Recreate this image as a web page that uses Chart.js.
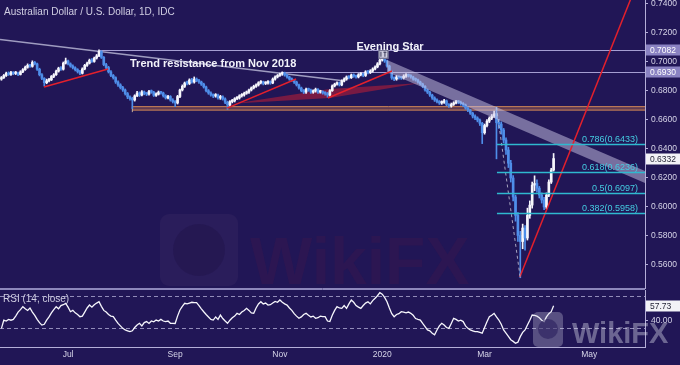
<!DOCTYPE html>
<html><head><meta charset="utf-8">
<script src="https://cdn.jsdelivr.net/npm/chart.js@4/dist/chart.umd.min.js"></script>
<style>
html,body{margin:0;padding:0;background:#211656;width:680px;height:365px;overflow:hidden}
#wrap{position:relative;width:680px;height:365px}
#c1{position:absolute;left:0;top:0}
#c2{position:absolute;left:0;top:289px}
</style></head>
<body><div id="wrap"><canvas id="c1" width="680" height="289"></canvas><canvas id="c2" width="680" height="76"></canvas></div>
<script>
// ---------- DATA (AUD/USD daily, bar index = trading day from 22 May 2019) ----------
const opens = [0.6880,0.6890,0.6905,0.6920,0.6912,0.6925,0.6918,0.6922,0.6912,0.6930,
0.6945,0.6962,0.6975,0.6968,0.6995,0.6985,0.6948,0.6910,0.6885,0.6855,
0.6868,0.6875,0.6898,0.6910,0.6935,0.6955,0.6948,0.6990,0.7005,0.6985,
0.6970,0.6958,0.6945,0.6932,0.6920,0.6950,0.6975,0.6990,0.7010,0.7002,
0.7025,0.7040,0.7070,0.7030,0.6980,0.6960,0.6930,0.6905,0.6890,0.6860,
0.6840,0.6822,0.6805,0.6780,0.6757,0.6745,0.6736,0.6765,0.6784,0.6770,
0.6792,0.6780,0.6776,0.6795,0.6790,0.6768,0.6776,0.6790,0.6784,0.6765,
0.6750,0.6760,0.6736,0.6725,0.6715,0.6760,0.6805,0.6830,0.6853,0.6850,
0.6874,0.6860,0.6880,0.6870,0.6860,0.6845,0.6826,0.6800,0.6784,0.6770,
0.6763,0.6770,0.6750,0.6758,0.6743,0.6720,0.6701,0.6725,0.6730,0.6745,
0.6750,0.6765,0.6770,0.6782,0.6790,0.6805,0.6819,0.6830,0.6840,0.6855,
0.6860,0.6850,0.6853,0.6862,0.6853,0.6880,0.6895,0.6905,0.6915,0.6922,
0.6908,0.6895,0.6880,0.6872,0.6860,0.6840,0.6819,0.6800,0.6790,0.6810,
0.6805,0.6790,0.6798,0.6810,0.6790,0.6795,0.6784,0.6780,0.6770,0.6800,
0.6833,0.6845,0.6853,0.6840,0.6867,0.6880,0.6895,0.6890,0.6908,0.6900,
0.6895,0.6910,0.6915,0.6905,0.6930,0.6925,0.6936,0.6950,0.6964,0.6985,
0.7012,0.7018,0.7005,0.6970,0.6930,0.6888,0.6880,0.6895,0.6890,0.6888,
0.6900,0.6908,0.6902,0.6895,0.6880,0.6874,0.6860,0.6846,0.6830,0.6805,
0.6790,0.6770,0.6750,0.6736,0.6725,0.6715,0.6720,0.6730,0.6705,0.6694,
0.6705,0.6715,0.6725,0.6720,0.6710,0.6701,0.6680,0.6667,0.6645,0.6625,
0.6612,0.6598,0.6575,0.6510,0.6560,0.6590,0.6610,0.6625,0.6640,0.6580,
0.6570,0.6529,0.6460,0.6391,0.6300,0.6198,0.6067,0.5940,0.5802,0.5760,
0.5853,0.5784,0.5940,0.6011,0.6149,0.6160,0.6128,0.6080,0.6046,0.5998,
0.6080,0.6170,0.6253];
const highs = [0.6898,0.6912,0.6928,0.6930,0.6934,0.6931,0.6933,0.6928,0.6938,0.6952,
0.6970,0.6985,0.6982,0.7006,0.7002,0.6990,0.6955,0.6918,0.6890,0.6880,
0.6886,0.6905,0.6918,0.6942,0.6962,0.6966,0.6998,0.7025,0.7012,0.6992,
0.6978,0.6965,0.6952,0.6940,0.6958,0.6982,0.6998,0.7018,0.7022,0.7032,
0.7050,0.7082,0.7076,0.7036,0.6988,0.6968,0.6938,0.6912,0.6896,0.6868,
0.6848,0.6830,0.6812,0.6788,0.6765,0.6755,0.6772,0.6795,0.6792,0.6800,
0.6798,0.6788,0.6802,0.6805,0.6796,0.6785,0.6798,0.6796,0.6790,0.6772,
0.6768,0.6766,0.6745,0.6732,0.6768,0.6812,0.6840,0.6860,0.6866,0.6882,
0.6885,0.6895,0.6888,0.6878,0.6866,0.6852,0.6832,0.6808,0.6792,0.6778,
0.6780,0.6776,0.6768,0.6765,0.6750,0.6728,0.6732,0.6740,0.6752,0.6760,
0.6772,0.6780,0.6790,0.6798,0.6812,0.6826,0.6838,0.6848,0.6862,0.6870,
0.6866,0.6862,0.6870,0.6868,0.6888,0.6902,0.6912,0.6922,0.6930,0.6928,
0.6914,0.6900,0.6888,0.6878,0.6866,0.6846,0.6825,0.6808,0.6818,0.6818,
0.6812,0.6806,0.6818,0.6815,0.6803,0.6800,0.6792,0.6788,0.6808,0.6840,
0.6852,0.6862,0.6860,0.6875,0.6888,0.6902,0.6905,0.6915,0.6916,0.6908,
0.6918,0.6925,0.6920,0.6938,0.6940,0.6945,0.6958,0.6972,0.6994,0.7025,
0.7032,0.7025,0.7012,0.6976,0.6936,0.6896,0.6905,0.6902,0.6898,0.6910,
0.6918,0.6915,0.6910,0.6900,0.6888,0.6880,0.6866,0.6852,0.6836,0.6812,
0.6796,0.6776,0.6758,0.6744,0.6732,0.6730,0.6740,0.6736,0.6712,0.6715,
0.6724,0.6734,0.6732,0.6728,0.6718,0.6708,0.6688,0.6672,0.6652,0.6634,
0.6620,0.6605,0.6582,0.6570,0.6600,0.6620,0.6636,0.6660,0.6687,0.6600,
0.6585,0.6540,0.6475,0.6410,0.6320,0.6215,0.6080,0.5960,0.5830,0.5880,
0.5870,0.5990,0.6040,0.6170,0.6213,0.6185,0.6140,0.6095,0.6065,0.6095,
0.6185,0.6265,0.6367];
const lows = [0.6872,0.6884,0.6898,0.6905,0.6906,0.6910,0.6911,0.6904,0.6908,0.6924,
0.6940,0.6955,0.6960,0.6962,0.6978,0.6940,0.6902,0.6876,0.6832,0.6848,
0.6860,0.6870,0.6890,0.6905,0.6928,0.6940,0.6942,0.6984,0.6978,0.6962,
0.6950,0.6936,0.6922,0.6910,0.6915,0.6944,0.6968,0.6984,0.6995,0.6996,
0.7018,0.7035,0.7022,0.6972,0.6950,0.6922,0.6896,0.6880,0.6850,0.6830,
0.6812,0.6795,0.6770,0.6745,0.6735,0.6677,0.6728,0.6758,0.6760,0.6764,
0.6772,0.6766,0.6770,0.6782,0.6760,0.6760,0.6770,0.6776,0.6756,0.6742,
0.6744,0.6728,0.6715,0.6690,0.6708,0.6752,0.6798,0.6822,0.6840,0.6842,
0.6852,0.6852,0.6862,0.6850,0.6836,0.6818,0.6792,0.6775,0.6762,0.6752,
0.6755,0.6742,0.6740,0.6735,0.6710,0.6671,0.6694,0.6716,0.6722,0.6738,
0.6742,0.6756,0.6762,0.6775,0.6782,0.6798,0.6812,0.6822,0.6832,0.6846,
0.6840,0.6842,0.6845,0.6844,0.6848,0.6872,0.6888,0.6898,0.6906,0.6900,
0.6886,0.6872,0.6864,0.6850,0.6832,0.6810,0.6792,0.6780,0.6782,0.6796,
0.6782,0.6782,0.6790,0.6782,0.6783,0.6776,0.6770,0.6755,0.6762,0.6795,
0.6826,0.6838,0.6832,0.6834,0.6860,0.6872,0.6882,0.6884,0.6892,0.6886,
0.6888,0.6902,0.6896,0.6898,0.6916,0.6918,0.6928,0.6944,0.6958,0.6978,
0.7004,0.6995,0.6962,0.6922,0.6878,0.6870,0.6872,0.6880,0.6878,0.6880,
0.6892,0.6894,0.6886,0.6872,0.6866,0.6852,0.6838,0.6820,0.6796,0.6780,
0.6760,0.6740,0.6726,0.6715,0.6705,0.6706,0.6712,0.6696,0.6685,0.6686,
0.6698,0.6708,0.6710,0.6700,0.6690,0.6672,0.6655,0.6636,0.6612,0.6600,
0.6585,0.6560,0.6435,0.6500,0.6550,0.6580,0.6600,0.6615,0.6330,0.6540,
0.6500,0.6440,0.6360,0.6270,0.6170,0.6040,0.5900,0.5760,0.5510,0.5710,
0.5700,0.5770,0.5920,0.5990,0.6110,0.6100,0.6060,0.6025,0.5980,0.5985,
0.6070,0.6160,0.6245];
const closes = [0.6890,0.6905,0.6920,0.6912,0.6925,0.6918,0.6922,0.6912,0.6930,0.6945,
0.6962,0.6975,0.6968,0.6995,0.6985,0.6948,0.6910,0.6885,0.6855,0.6868,
0.6875,0.6898,0.6910,0.6935,0.6955,0.6948,0.6990,0.7005,0.6985,0.6970,
0.6958,0.6945,0.6932,0.6920,0.6950,0.6975,0.6990,0.7010,0.7002,0.7025,
0.7040,0.7070,0.7030,0.6980,0.6960,0.6930,0.6905,0.6890,0.6860,0.6840,
0.6822,0.6805,0.6780,0.6757,0.6745,0.6736,0.6765,0.6784,0.6770,0.6792,
0.6780,0.6776,0.6795,0.6790,0.6768,0.6776,0.6790,0.6784,0.6765,0.6750,
0.6760,0.6736,0.6725,0.6715,0.6760,0.6805,0.6830,0.6853,0.6850,0.6874,
0.6860,0.6880,0.6870,0.6860,0.6845,0.6826,0.6800,0.6784,0.6770,0.6763,
0.6770,0.6750,0.6758,0.6743,0.6720,0.6701,0.6725,0.6730,0.6745,0.6750,
0.6765,0.6770,0.6782,0.6790,0.6805,0.6819,0.6830,0.6840,0.6855,0.6860,
0.6850,0.6853,0.6862,0.6853,0.6880,0.6895,0.6905,0.6915,0.6922,0.6908,
0.6895,0.6880,0.6872,0.6860,0.6840,0.6819,0.6800,0.6790,0.6810,0.6805,
0.6790,0.6798,0.6810,0.6790,0.6795,0.6784,0.6780,0.6770,0.6800,0.6833,
0.6845,0.6853,0.6840,0.6867,0.6880,0.6895,0.6890,0.6908,0.6900,0.6895,
0.6910,0.6915,0.6905,0.6930,0.6925,0.6936,0.6950,0.6964,0.6985,0.7012,
0.7018,0.7005,0.6970,0.6930,0.6888,0.6880,0.6895,0.6890,0.6888,0.6900,
0.6908,0.6902,0.6895,0.6880,0.6874,0.6860,0.6846,0.6830,0.6805,0.6790,
0.6770,0.6750,0.6736,0.6725,0.6715,0.6720,0.6730,0.6705,0.6694,0.6705,
0.6715,0.6725,0.6720,0.6710,0.6701,0.6680,0.6667,0.6645,0.6625,0.6612,
0.6598,0.6575,0.6510,0.6560,0.6590,0.6610,0.6625,0.6640,0.6580,0.6570,
0.6529,0.6460,0.6391,0.6300,0.6198,0.6067,0.5940,0.5802,0.5760,0.5853,
0.5784,0.5940,0.6011,0.6149,0.6160,0.6128,0.6080,0.6046,0.5998,0.6080,
0.6170,0.6253,0.6332];
const rsi = [30,40,39,41,40,41,45,50,53,56.6,
54,52,55,50,46,41,37,34,35,40,
44,49,53,56.6,54,58,59,60.7,56,50.4,
52,49,47,44.3,45,50,55,58.6,56,59,
61,62.7,57,52,50,47,45,44.3,40,36,
33,30,28,27,26,27,31,34,36.2,33,
37,38.3,36,39,38,40.2,39,41,39,38.3,
39,36.2,36.2,36,45,52.5,57,60.7,60,61,
62,61.5,61.5,58,54,50.4,47,44,41,40.2,
44,41,46.3,42,39,36.2,40,43,45,48.4,
47,50,52,54.5,52,49,48.4,55,60,62.7,
60,61,58.6,59,61,63,62,64.8,62,60,
58.6,55,52,48,45,42.3,44,47,48.4,46,
44,45,42.3,43,45,44.3,44.3,39,38.3,46,
52,56.6,55,54.5,58,54.5,60,64.8,62,58,
56,54.5,58,61,62.7,60,64,66.9,70,73.8,
72,68,62.7,55,48,44.3,47,48,50.4,50,
49,50,48.4,46,42,41,40.2,36,32,28,
27,24,22,28,33,36.2,34,31,30,36,
42.3,41,39,40,38.3,33,30,28,27,26,
26,25,24,31,38,44.3,46,48.4,44,40.2,
35,28,24,20,16,14,11.6,13,19.8,25,
28,34.1,40,46.3,46,45,43,40,38.3,44,
48,50.4,57.73];

const priceTicks = [0.56,0.58,0.60,0.62,0.64,0.66,0.68,0.70,0.72,0.74];
const timeTickIndex = [28,73,117,160,203,247];
const timeTickLabels = ['Jul','Sep','Nov','2020','Mar','May'];

// annotation levels (index, price)
const trendLine = [[-0.6,0.7153],[144.4,0.6867]];
const redLines = [[[17.9,0.6825],[44.8,0.6950]],[[94.8,0.6680],[123.8,0.6881]],[[137.2,0.6750],[164.1,0.6936]],[[217.8,0.5515],[266,0.7498]]];
const wedge = [[98,0.6712],[138,0.6812],[176,0.6853],[138,0.6750]];
const fallingBand = [[162,0.7012],[270.4,0.6246],[270.4,0.6163],[162,0.6929]];
const supportBand = [0.6666,0.6690];
const supportStart = 55;
const levels = [0.7082,0.6930];
const levelStart = [41.4,118];
const fibRatios = ['0.786','0.618','0.5','0.382'];
const fibPrices = [0.6433,0.6236,0.6097,0.5958];
const fibStart = 208.2;
const fibSwing = [[208,0.6686],[218,0.5508]];
const lastPrice = 0.6332;
const lastRsi = 57.73;

// ---------- CHART ----------
const X_MIN = -0.6, X_MAX = 270.4;
const UP = '#f6f6fc', DOWN = '#4f8ee9';
const AXIS = '#b4aed8', TXT = '#d6d4e8';
const colors = closes.map((c,i)=> c >= opens[i] ? UP : DOWN);

function fitY(w){ return function(s){ s.width = w; s.paddingTop = 0; s.paddingBottom = 0; }; }

function pt(chart, p){ return [chart.scales.x.getPixelForValue(p[0]), chart.scales.y.getPixelForValue(p[1])]; }
function seg(ctx, a, b, color, w, dash){
  ctx.beginPath(); ctx.setLineDash(dash || []); ctx.strokeStyle = color; ctx.lineWidth = w;
  ctx.moveTo(a[0], a[1]); ctx.lineTo(b[0], b[1]); ctx.stroke(); ctx.setLineDash([]);
}
function poly(ctx, pts, fill){
  ctx.beginPath(); pts.forEach((p,i)=> i ? ctx.lineTo(p[0],p[1]) : ctx.moveTo(p[0],p[1]));
  ctx.closePath(); ctx.fillStyle = fill; ctx.fill();
}
function rrect(ctx, x, y, w, h, r){
  ctx.beginPath(); ctx.moveTo(x+r,y); ctx.arcTo(x+w,y,x+w,y+h,r); ctx.arcTo(x+w,y+h,x,y+h,r);
  ctx.arcTo(x,y+h,x,y,r); ctx.arcTo(x,y,x+w,y,r); ctx.closePath();
}
function axisBox(ctx, y, text, bg, fg){
  ctx.fillStyle = bg; ctx.fillRect(646, Math.round(y) - 5.5, 34, 11);
  ctx.fillStyle = fg; ctx.font = '8.5px "Liberation Sans", Arial, sans-serif';
  ctx.textAlign = 'left'; ctx.textBaseline = 'middle'; ctx.fillText(text, 650, Math.round(y) + 0.5);
}

const mainPlugin = {
  id: 'mainAnnot',
  beforeDatasetsDraw(chart){
    const {ctx, chartArea: a} = chart; const ys = chart.scales.y;
    ctx.save();
    ctx.beginPath(); ctx.rect(a.left, a.top, a.right-a.left, a.bottom-a.top); ctx.clip();
    // very faint central watermark
    ctx.fillStyle = 'rgba(255,190,200,0.045)'; rrect(ctx, 160, 214, 78, 72, 9); ctx.fill();
    ctx.fillStyle = 'rgba(25,12,60,0.25)'; ctx.beginPath(); ctx.arc(199, 250, 26, 0, Math.PI*2); ctx.fill();
    ctx.fillStyle = 'rgba(120,25,60,0.12)'; ctx.font = 'bold 66px "Liberation Sans", Arial, sans-serif';
    ctx.textAlign = 'left'; ctx.textBaseline = 'alphabetic'; ctx.fillText('WikiFX', 250, 284);
    // support band
    const bx = chart.scales.x.getPixelForValue(supportStart);
    const y1 = ys.getPixelForValue(supportBand[1]), y2 = ys.getPixelForValue(supportBand[0]);
    ctx.fillStyle = 'rgba(150,90,80,0.55)'; ctx.fillRect(bx, y1, a.right-bx, y2-y1);
    seg(ctx, [bx,y1], [a.right,y1], 'rgba(214,138,86,0.95)', 1);
    seg(ctx, [bx,y2], [a.right,y2], 'rgba(214,138,86,0.95)', 1);
    seg(ctx, [bx,y1], [bx,y2+2], 'rgba(214,190,170,0.9)', 1);
    // horizontal levels
    levels.forEach((v,k)=>{
      const y = Math.round(ys.getPixelForValue(v)) + 0.5;
      seg(ctx, [chart.scales.x.getPixelForValue(levelStart[k]), y], [a.right, y], '#a59ed2', 1);
    });
    // trend resistance line
    seg(ctx, pt(chart, trendLine[0]), pt(chart, trendLine[1]), '#9f9cc0', 1.6);
    // wedge
    poly(ctx, wedge.map(p=>pt(chart,p)), 'rgba(150,28,62,0.75)');
    ctx.restore();
  },
  afterDatasetsDraw(chart){
    const {ctx, chartArea: a} = chart; const ys = chart.scales.y;
    ctx.save();
    ctx.beginPath(); ctx.rect(a.left, a.top, a.right-a.left, a.bottom-a.top); ctx.clip();
    // falling resistance band
    poly(ctx, fallingBand.map(p=>pt(chart,p)), 'rgba(205,200,232,0.5)');
    // red lines
    redLines.forEach(l => seg(ctx, pt(chart,l[0]), pt(chart,l[1]), '#e3202c', 1.5));
    // fib swing
    seg(ctx, pt(chart,fibSwing[0]), pt(chart,fibSwing[1]), 'rgba(190,190,210,0.85)', 1, [3,3]);
    // fib levels
    const fx = chart.scales.x.getPixelForValue(fibStart);
    ctx.font = '9px "Liberation Sans", Arial, sans-serif'; ctx.textAlign = 'right'; ctx.textBaseline = 'alphabetic';
    fibPrices.forEach((v,k)=>{
      const y = Math.round(ys.getPixelForValue(v)) + 0.5;
      seg(ctx, [fx,y], [a.right,y], '#2fb9cf', 1.3);
      ctx.fillStyle = '#45cde2'; ctx.fillText(fibRatios[k] + '(' + v.toFixed(4) + ')', 638, y - 3);
    });
    // evening star marker
    const sx = chart.scales.x.getPixelForValue(160.5), sy = ys.getPixelForValue(0.7048);
    ctx.fillStyle = '#cfcfe0'; ctx.fillRect(sx-5, sy-5, 10, 9);
    ctx.strokeStyle = '#5a5a7a'; ctx.lineWidth = 1; ctx.strokeRect(sx-4.5, sy-4.5, 9, 8);
    ctx.fillStyle = '#3a3a5a'; ctx.fillRect(sx-3, sy-3, 1, 5); ctx.fillRect(sx, sy-3, 3, 1); ctx.fillRect(sx+1, sy-3, 1, 5);
    // texts
    ctx.fillStyle = '#d0cee2'; ctx.font = '10px "Liberation Sans", Arial, sans-serif';
    ctx.textAlign = 'left'; ctx.fillText('Australian Dollar / U.S. Dollar, 1D, IDC', 4, 14.5);
    ctx.fillStyle = '#f2f2fa'; ctx.font = 'bold 11px "Liberation Sans", Arial, sans-serif';
    ctx.fillText('Trend resistance from Nov 2018', 130, 66.5);
    ctx.textAlign = 'center'; ctx.fillText('Evening Star', 390, 50);
    ctx.restore();
  },
  afterDraw(chart){
    const {ctx, chartArea: a} = chart; const ys = chart.scales.y;
    ctx.save();
    seg(ctx, [0, a.bottom + 0.5], [a.right, a.bottom + 0.5], '#8d87bb', 1);
    axisBox(ctx, ys.getPixelForValue(levels[0]), levels[0].toFixed(4), '#8a82c2', '#ffffff');
    axisBox(ctx, ys.getPixelForValue(levels[1]), levels[1].toFixed(4), '#8a82c2', '#ffffff');
    axisBox(ctx, ys.getPixelForValue(lastPrice), lastPrice.toFixed(4), '#f2f2f6', '#262638');
    ctx.restore();
  }
};

Chart.defaults.font.family = '"Liberation Sans", Arial, sans-serif';

new Chart(document.getElementById('c1'), {
  type: 'bar',
  data: {
    datasets: [
      { label: 'body', data: closes.map((c,i)=>({x:i, y:[opens[i], c]})), backgroundColor: colors,
        barThickness: 2, minBarLength: 1.5, grouped: false, borderWidth: 0 },
      { label: 'wick', data: closes.map((c,i)=>({x:i, y:[lows[i], highs[i]]})), backgroundColor: colors,
        barThickness: 1, grouped: false, borderWidth: 0 }
    ]
  },
  options: {
    responsive: false, animation: false, devicePixelRatio: 1,
    layout: { padding: { left: 0, right: 0, top: 0, bottom: 1 } },
    plugins: { legend: { display: false }, tooltip: { enabled: false } },
    scales: {
      x: { type: 'linear', min: X_MIN, max: X_MAX, offset: false, display: false, grid: { display: false } },
      y: { position: 'right', min: 0.54393, max: 0.74255, beginAtZero: false,
        afterFit: fitY(35),
        afterBuildTicks: s => { s.ticks = priceTicks.map(v => ({ value: v })); },
        ticks: { callback: v => v.toFixed(4), color: TXT, font: { size: 8.5 }, padding: 3, autoSkip: false },
        grid: { display: true, drawOnChartArea: false, drawTicks: true, tickLength: 3, color: AXIS },
        border: { display: true, color: AXIS, width: 1 } }
    }
  },
  plugins: [mainPlugin]
});

const rsiPlugin = {
  id: 'rsiAnnot',
  beforeDatasetsDraw(chart){
    const {ctx, chartArea: a} = chart; const ys = chart.scales.y;
    ctx.save();
    [70, 30].forEach(v => {
      const y = Math.round(ys.getPixelForValue(v)) + 0.5;
      seg(ctx, [a.left, y], [a.right, y], 'rgba(175,170,210,0.8)', 1, [4,3]);
    });
    seg(ctx, [0, 0.5], [a.right, 0.5], '#8d87bb', 1);
    ctx.fillStyle = '#d0cee2'; ctx.font = '10px "Liberation Sans", Arial, sans-serif';
    ctx.textAlign = 'left'; ctx.textBaseline = 'alphabetic'; ctx.fillText('RSI (14, close)', 3, 13);
    ctx.restore();
  },
  afterDraw(chart){
    const {ctx} = chart; const ys = chart.scales.y;
    ctx.save();
    // bottom-right watermark
    ctx.fillStyle = 'rgba(215,215,232,0.3)'; rrect(ctx, 533, 23, 30, 35, 5); ctx.fill();
    ctx.fillStyle = 'rgba(33,22,86,0.5)'; ctx.beginPath(); ctx.arc(548, 40, 10, 0, Math.PI*2); ctx.fill();
    ctx.fillStyle = 'rgba(222,222,238,0.4)'; ctx.font = 'bold 29px "Liberation Sans", Arial, sans-serif';
    ctx.textAlign = 'left'; ctx.textBaseline = 'alphabetic'; ctx.fillText('WikiFX', 572, 54);
    axisBox(ctx, ys.getPixelForValue(lastRsi), lastRsi.toFixed(2), '#f2f2f6', '#262638');
    ctx.restore();
  }
};

new Chart(document.getElementById('c2'), {
  type: 'line',
  data: { datasets: [{ label: 'RSI', data: rsi.map((v,i)=>({x:i, y:v})), borderColor: '#f6f6fc',
    borderWidth: 1.3, pointRadius: 0, tension: 0, fill: false }] },
  options: {
    responsive: false, animation: false, devicePixelRatio: 1,
    layout: { padding: { left: 0, right: 0, top: 1, bottom: 0 } },
    plugins: { legend: { display: false }, tooltip: { enabled: false } },
    scales: {
      x: { type: 'linear', min: X_MIN, max: X_MAX, offset: false,
        afterFit: s => { s.height = 18; s.paddingLeft = 0; s.paddingRight = 0; },
        afterBuildTicks: s => { s.ticks = timeTickIndex.map(v => ({ value: v })); },
        ticks: { callback: v => timeTickLabels[timeTickIndex.indexOf(v)], color: TXT, font: { size: 8.5 },
          autoSkip: false, maxRotation: 0, padding: 3 },
        grid: { display: false, drawTicks: false },
        border: { display: true, color: AXIS, width: 1 } },
      y: { position: 'right', min: 7.1, max: 77.06,
        afterFit: fitY(35),
        afterBuildTicks: s => { s.ticks = [{ value: 40 }]; },
        ticks: { callback: v => v.toFixed(2), color: TXT, font: { size: 8.5 }, padding: 3 },
        grid: { display: true, drawOnChartArea: false, drawTicks: true, tickLength: 3, color: AXIS },
        border: { display: true, color: AXIS, width: 1 } }
    }
  },
  plugins: [rsiPlugin]
});
</script>
</body></html>
